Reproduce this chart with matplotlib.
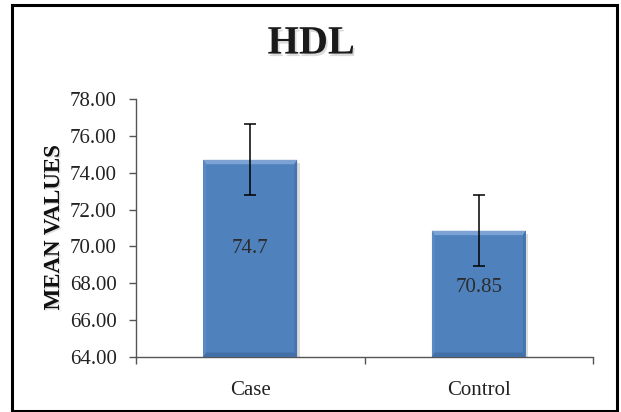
import matplotlib

matplotlib.use("Agg")

import matplotlib.pyplot as plt
import matplotlib.patheffects as pe
from matplotlib.patches import Polygon, Rectangle

# Data
categories = ["Case", "Control"]
means = [74.7, 70.85]
errors = [1.92, 1.92]
value_labels = ["74.7", "70.85"]
y_ticks = [64, 66, 68, 70, 72, 74, 76, 78]

Y_MIN, Y_MAX = 64, 78
BAR_W = 0.41
FONT = "Liberation Serif"
FACE = "#4F81BD"

plt.rcParams["font.family"] = [FONT, "DejaVu Serif"]

fig = plt.figure(figsize=(6.21, 4.12), dpi=100)
ax = fig.add_axes([0.219, 0.1335, 0.736, 0.6262])

x = list(range(len(categories)))
bars = ax.bar(
    x, [m - Y_MIN for m in means], bottom=Y_MIN, width=BAR_W, color=FACE,
    edgecolor="none", zorder=2,
    path_effects=[pe.withSimplePatchShadow(offset=(2, -2), shadow_rgbFace="#777777", alpha=0.25)],
)

# soft bevel on each bar, derived from the bar geometry
bx = 0.012  # bevel width, category units
by = 0.24   # bevel height, data units
for b in bars:
    x0, y0 = b.get_x(), b.get_y()
    x1, y1 = x0 + b.get_width(), y0 + b.get_height()
    bevels = [
        ([(x0, y1), (x1, y1), (x1 - bx, y1 - by), (x0 + bx, y1 - by)], "#7DA3D4"),  # top
        ([(x0, y0), (x0, y1), (x0 + bx, y1 - by), (x0 + bx, y0 + by)], "#5A8AC4"),  # left
        ([(x1, y0), (x1, y1), (x1 - bx, y1 - by), (x1 - bx, y0 + by)], "#4675AE"),  # right
        ([(x0, y0), (x1, y0), (x1 - bx, y0 + by), (x0 + bx, y0 + by)], "#426FA6"),  # bottom
    ]
    for pts, col in bevels:
        ax.add_patch(Polygon(pts, closed=True, facecolor=col, edgecolor="none", zorder=3))

ax.errorbar(x, means, yerr=errors, fmt="none", ecolor="black", elinewidth=1.1,
            capsize=4.5, capthick=1.1, zorder=4)

for xi, m, lab in zip(x, means, value_labels):
    ax.text(xi, Y_MIN + 0.55 * (m - Y_MIN), lab, ha="center", va="center",
            fontsize=15, color="#2b2b2b", zorder=5)

ax.set_ylim(Y_MIN, Y_MAX)
ax.set_xlim(-0.5, len(categories) - 0.5)
ax.set_yticks(y_ticks)
ax.set_yticklabels([f"{v:.2f}" for v in y_ticks], fontsize=15, color="#222222")
ax.tick_params(axis="y", direction="out", length=5, width=1, color="#555555", pad=9)

# boundary ticks between categories, labels at centers
ax.set_xticks([i - 0.5 for i in range(len(categories) + 1)])
ax.set_xticklabels([])
ax.set_xticks(x, minor=True)
ax.set_xticklabels(categories, minor=True, fontsize=15, color="#222222")
ax.tick_params(axis="x", which="major", direction="out", length=5, width=1, color="#555555")
ax.tick_params(axis="x", which="minor", length=0, pad=17)

for s in ["top", "right"]:
    ax.spines[s].set_visible(False)
for s in ["left", "bottom"]:
    ax.spines[s].set_color("#555555")
    ax.spines[s].set_linewidth(1)

ax.set_ylabel("MEAN VALUES", fontsize=16.5, fontweight="bold", color="#111111", labelpad=4,
              path_effects=[pe.withSimplePatchShadow(offset=(1, -1), shadow_rgbFace="#999999", alpha=0.3)])

fig.text(0.501, 0.893, "HDL", ha="center", va="center", fontsize=29, fontweight="bold",
         color="#1a1a1a",
         path_effects=[pe.withSimplePatchShadow(offset=(1.2, -1.8), shadow_rgbFace="#999999", alpha=0.35)])

# outer chart frame
fig.patches.append(Rectangle((12 / 621, 1 / 412), 605 / 621, 406 / 412, transform=fig.transFigure,
                             fill=False, edgecolor="black", linewidth=2.2))

fig.savefig("out.png", dpi=100)
